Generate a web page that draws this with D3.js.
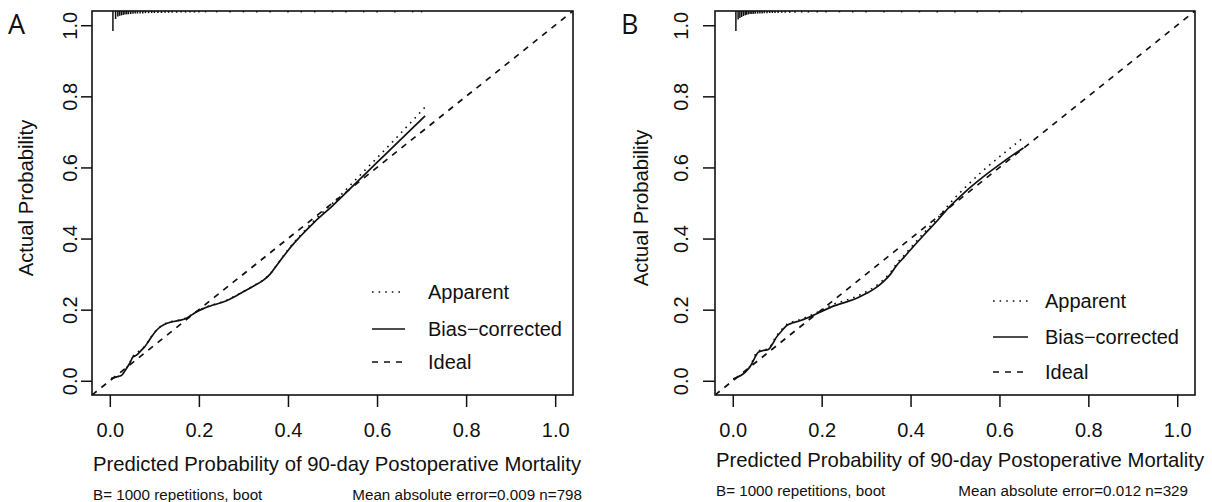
<!DOCTYPE html>
<html>
<head>
<meta charset="utf-8">
<script src="https://cdn.jsdelivr.net/npm/d3@7"></script>
<style>
html,body{margin:0;padding:0;background:#fff;}
svg text{font-family:"Liberation Sans",Arial,sans-serif;fill:#111;}
</style>
</head>
<body>
<svg id="chart" width="1212" height="502"></svg>
<script>
// ---------- DATA ----------
const tickValues = [0, 0.2, 0.4, 0.6, 0.8, 1.0];
const xTitle = "Predicted Probability of 90-day Postoperative Mortality";
const yTitle = "Actual Probability";
const legendLabels = ["Apparent", "Bias\u2212corrected", "Ideal"];

// Panel A
const predA     = [0.003,0.015,0.026,0.037,0.045,0.052,0.060,0.071,0.078,0.086,0.095,0.105,0.115,0.127,0.140,0.157,0.172,0.185,0.195,0.210,0.232,0.262,0.285,0.307,0.325,0.345,0.360,0.375,0.390,0.401,0.427,0.460,0.500,0.550,0.600,0.650,0.708];
const biasA     = [0.006,0.011,0.015,0.034,0.050,0.067,0.072,0.086,0.095,0.109,0.126,0.142,0.153,0.161,0.166,0.170,0.176,0.186,0.194,0.203,0.213,0.225,0.240,0.255,0.268,0.283,0.300,0.325,0.350,0.368,0.405,0.447,0.492,0.553,0.614,0.675,0.745];
const apparentA = [0.006,0.011,0.016,0.035,0.052,0.069,0.078,0.089,0.097,0.110,0.127,0.143,0.154,0.162,0.167,0.171,0.177,0.187,0.195,0.204,0.214,0.226,0.241,0.256,0.269,0.284,0.301,0.326,0.352,0.370,0.408,0.452,0.499,0.563,0.627,0.692,0.770];
const rugAx = [0.007,0.013,0.018,0.022,0.026,0.030,0.034,0.038,0.042,0.047,0.052,0.057,0.062,0.068,0.074,0.080,0.087,0.094,0.100,0.108,0.116,0.124,0.132,0.140,0.150,0.160,0.170,0.180,0.190,0.200,0.215,0.240,0.270,0.300,0.330,0.360,0.400,0.430,0.460,0.500,0.530,0.570,0.600,0.640,0.680,0.700];
const rugAn = [100,40,28,24,22,20,18,17,16,15,14,13,13,12,12,11,11,10,10,10,10,9,9,9,9,8,8,8,8,8,7,7,7,7,7,7,7,7,7,7,7,7,7,7,7,7];
const captionA = ["B= 1000 repetitions, boot", "Mean absolute error=0.009 n=798"];

// Panel B
const predB     = [0.001,0.012,0.023,0.031,0.038,0.045,0.050,0.057,0.068,0.080,0.090,0.098,0.110,0.121,0.135,0.151,0.166,0.181,0.200,0.226,0.256,0.280,0.301,0.320,0.339,0.355,0.369,0.385,0.399,0.430,0.460,0.489,0.520,0.564,0.610,0.654];
const biasB     = [0.005,0.011,0.019,0.028,0.038,0.053,0.066,0.080,0.085,0.088,0.105,0.122,0.140,0.155,0.163,0.169,0.176,0.184,0.195,0.210,0.222,0.233,0.246,0.260,0.279,0.300,0.325,0.347,0.367,0.410,0.450,0.491,0.528,0.574,0.617,0.655];
const apparentB = [0.005,0.011,0.020,0.029,0.040,0.057,0.072,0.084,0.087,0.090,0.108,0.126,0.144,0.158,0.166,0.172,0.179,0.187,0.199,0.215,0.227,0.238,0.251,0.265,0.284,0.305,0.330,0.352,0.372,0.416,0.456,0.500,0.540,0.592,0.640,0.684];
const rugBx = [0.007,0.012,0.016,0.020,0.024,0.028,0.031,0.035,0.039,0.043,0.047,0.051,0.056,0.061,0.066,0.071,0.077,0.083,0.089,0.095,0.102,0.110,0.118,0.128,0.140,0.155,0.170,0.190,0.210,0.240,0.270,0.300,0.340,0.380,0.420,0.460,0.500,0.550,0.600,0.650];
const rugBn = [100,42,35,30,25,21,19,17,15,15,14,13,13,12,12,11,11,10,10,10,10,9,9,9,9,8,8,8,8,7,7,7,7,7,7,7,7,7,7,7];
const captionB = ["B= 1000 repetitions, boot", "Mean absolute error=0.012 n=329"];

// ---------- DRAW ----------
const svg = d3.select("#chart");
const domain = [-0.04, 1.04];

function drawPanel(cfg) {
  const x = d3.scaleLinear().domain(domain).range([cfg.left, cfg.right]);
  const y = d3.scaleLinear().domain(domain).range([cfg.bottom, cfg.top]);
  const g = svg.append("g");

  const clipId = "clip" + cfg.letter;
  svg.append("defs").append("clipPath").attr("id", clipId)
    .append("rect").attr("x", cfg.left).attr("y", cfg.top)
    .attr("width", cfg.right - cfg.left).attr("height", cfg.bottom - cfg.top);

  const plot = g.append("g").attr("clip-path", `url(#${clipId})`);

  // ideal line
  plot.append("line")
    .attr("x1", x(domain[0])).attr("y1", y(domain[0]))
    .attr("x2", x(domain[1])).attr("y2", y(domain[1]))
    .attr("stroke", "#111").attr("stroke-width", 1.7).attr("stroke-dasharray", "6,6");

  const line = d3.line().x(d => x(d[0])).y(d => y(d[1])).curve(d3.curveMonotoneX);

  plot.append("path").datum(d3.zip(cfg.pred, cfg.apparent))
    .attr("d", line).attr("fill", "none").attr("stroke", "#111")
    .attr("stroke-width", 1.6).attr("stroke-dasharray", "1.6,5");
  plot.append("path").datum(d3.zip(cfg.pred, cfg.bias))
    .attr("d", line).attr("fill", "none").attr("stroke", "#111")
    .attr("stroke-width", 1.7);

  // rug (histogram of predictions at top)
  const rugMax = d3.max(cfg.rugN);
  const rugLen = d3.scaleLinear().domain([0, rugMax]).range([0, 20]);
  plot.selectAll("line.rug").data(d3.zip(cfg.rugX, cfg.rugN)).join("line")
    .attr("class", "rug")
    .attr("x1", d => x(d[0])).attr("x2", d => x(d[0]))
    .attr("y1", cfg.top).attr("y2", d => cfg.top + rugLen(d[1]))
    .attr("stroke", "#111").attr("stroke-width", 1.5);

  // frame
  g.append("rect").attr("x", cfg.left).attr("y", cfg.top)
    .attr("width", cfg.right - cfg.left).attr("height", cfg.bottom - cfg.top)
    .attr("fill", "none").attr("stroke", "#111").attr("stroke-width", 1.6);

  // x axis
  const xa = g.append("g").attr("transform", `translate(0,${cfg.bottom})`)
    .call(d3.axisBottom(x).tickValues(tickValues).tickFormat(d3.format(".1f")).tickSize(12));
  xa.select(".domain").remove();
  xa.selectAll("line").attr("stroke", "#111").attr("stroke-width", 1.5);
  xa.selectAll("text").attr("y", cfg.xLabBase - cfg.bottom).attr("dy", null)
    .style("font-size", "20px").style("font-family", "Liberation Sans, Arial, sans-serif").attr("fill", "#111");

  // y axis
  const ya = g.append("g").attr("transform", `translate(${cfg.left},0)`)
    .call(d3.axisLeft(y).tickValues(tickValues).tickFormat(d3.format(".1f")).tickSize(cfg.yTick));
  ya.select(".domain").remove();
  ya.selectAll("line").attr("stroke", "#111").attr("stroke-width", 1.5);
  ya.selectAll("text").attr("x", null).attr("dy", null).attr("text-anchor", "middle")
    .attr("transform", `translate(${cfg.yLabBase - cfg.left},0) rotate(-90)`)
    .style("font-size", "20px").style("font-family", "Liberation Sans, Arial, sans-serif").attr("fill", "#111");

  // titles
  g.append("text").attr("x", cfg.xTitleX).attr("y", cfg.xTitleY)
    .style("font-size", "20.3px").text(xTitle);
  g.append("text").attr("transform", `translate(${cfg.yTitleX},${cfg.yTitleY}) rotate(-90)`)
    .attr("text-anchor", "middle").style("font-size", "20.3px").text(yTitle);

  // captions
  g.append("text").attr("x", cfg.capLeft).attr("y", cfg.capY)
    .style("font-size", "15.2px").text(cfg.caption[0]);
  g.append("text").attr("x", cfg.capRight).attr("y", cfg.capY).attr("text-anchor", "end")
    .style("font-size", "15.2px").text(cfg.caption[1]);

  // panel letter
  g.append("text").attr("x", cfg.letterX).attr("y", 34)
    .style("font-family", "Open Sans, sans-serif").style("font-size", "27px").text(cfg.letter);

  // legend
  const dashes = ["1.6,5", null, "6,6"];
  legendLabels.forEach((lab, i) => {
    const ly = cfg.legY[i];
    g.append("line").attr("x1", cfg.legX1).attr("x2", cfg.legX2)
      .attr("y1", ly).attr("y2", ly).attr("stroke", "#111").attr("stroke-width", 1.7)
      .attr("stroke-dasharray", dashes[i]);
    g.append("text").attr("x", cfg.legTextX).attr("y", ly + 7)
      .style("font-size", "20px").text(lab);
  });
}

drawPanel({
  letter: "A", letterX: 8,
  left: 92, right: 573, top: 11, bottom: 395,
  pred: predA, bias: biasA, apparent: apparentA, rugX: rugAx, rugN: rugAn,
  xLabBase: 437, yLabBase: 77, yTick: 11,
  xTitleX: 93, xTitleY: 471, yTitleX: 33, yTitleY: 198,
  capLeft: 93, capRight: 582, capY: 500, caption: captionA,
  legX1: 372, legX2: 405, legTextX: 428, legY: [292, 329, 362]
});

drawPanel({
  letter: "B", letterX: 621,
  left: 715, right: 1195, top: 11, bottom: 395,
  pred: predB, bias: biasB, apparent: apparentB, rugX: rugBx, rugN: rugBn,
  xLabBase: 437, yLabBase: 688, yTick: 12,
  xTitleX: 716, xTitleY: 467, yTitleX: 648, yTitleY: 208,
  capLeft: 716, capRight: 1188, capY: 496, caption: captionB,
  legX1: 993, legX2: 1028, legTextX: 1045, legY: [301, 337, 372]
});
</script>
</body>
</html>
